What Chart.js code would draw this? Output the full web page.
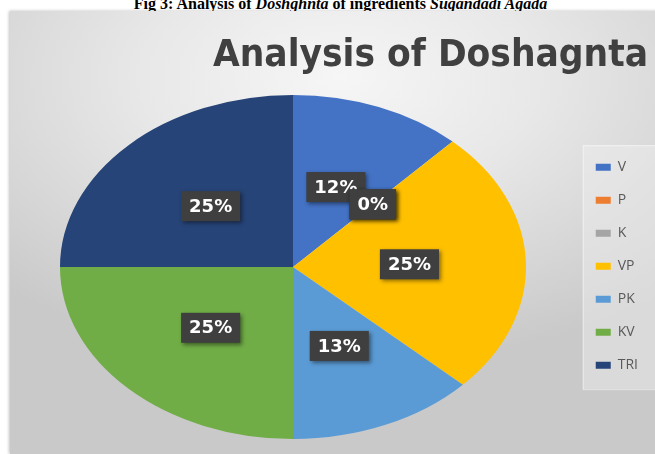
<!DOCTYPE html>
<html lang="en">
<head>
    <meta charset="UTF-8">
    <title>Analysis of Doshagnta</title>
    <script src="https://cdn.jsdelivr.net/npm/chart.js"></script>
    <style>
        body {
            margin: 0;
            width: 655px;
            height: 454px;
            overflow: hidden;
            background: #fff;
            position: relative;
        }
        .caption {
            position: absolute;
            top: -4px;
            left: 26px;
            width: 629px;
            text-align: center;
            font: bold 16px "Liberation Serif", serif;
            line-height: 16px;
            color: #000;
            white-space: nowrap;
        }
        .panel {
            position: absolute;
            left: 10px;
            top: 11px;
            width: 660px;
            height: 443px;
            background: radial-gradient(ellipse 75% 65% at 50% 15%, #f6f6f6 0%, #e8e8e8 40%, #c9c9c9 100%);
            box-shadow: -1px 0 3px rgba(0, 0, 0, 0.25);
        }
        canvas {
            position: absolute;
            left: 0;
            top: 0;
        }
    </style>
</head>
<body>

    <div class="caption">Fig 3: Analysis of <i>Doshghnta</i> of ingredients <i>Sugandadi Agada</i></div>
    <div class="panel"></div>
    <canvas id="doshaChart" width="655" height="454"></canvas>

    <script>
        // Dados do gráfico
        const labels = ['V', 'P', 'K', 'VP', 'PK', 'KV', 'TRI'];
        const values = [12, 0, 0, 25, 13, 25, 25];
        const colors = ['#4472C4', '#ED7D31', '#A5A5A5', '#FFC000', '#5B9BD5', '#70AD47', '#264478'];

        // onde fica a elipse da pizza (a imagem original foi esticada)
        const PIE = { cx: 293, cy: 267, rx: 233, ry: 172 };

        function pieScale(arc) {
            return { sx: PIE.rx / arc.outerRadius, sy: PIE.ry / arc.outerRadius };
        }

        // fundo claro atrás da legenda
        const legendBox = {
            id: 'legendBox',
            beforeDraw(chart) {
                const hb = chart.legend.legendHitBoxes;
                if (!hb || !hb.length) return;
                const last = hb[hb.length - 1];
                const ctx = chart.ctx;
                const x = hb[0].left - 13, y = hb[0].top - 15;
                const w = 75, h = last.top + last.height + 17 - y;
                ctx.save();
                ctx.fillStyle = 'rgba(240, 240, 240, 0.45)';
                ctx.strokeStyle = 'rgba(255, 255, 255, 0.5)';
                ctx.fillRect(x, y, w, h);
                ctx.strokeRect(x + 0.5, y + 0.5, w, h);
                ctx.restore();
            }
        };

        // estica a pizza em elipse e desenha os rótulos
        const ellipsePie = {
            id: 'ellipsePie',
            beforeDatasetsDraw(chart) {
                const arc = chart.getDatasetMeta(0).data[0];
                const s = pieScale(arc);
                const ctx = chart.ctx;
                ctx.save();
                ctx.translate(PIE.cx, PIE.cy);
                ctx.scale(s.sx, s.sy);
                ctx.translate(-arc.x, -arc.y);
            },
            afterDatasetsDraw(chart) {
                const ctx = chart.ctx;
                ctx.restore();
                const meta = chart.getDatasetMeta(0);
                const s = pieScale(meta.data[0]);
                ctx.save();
                ctx.font = 'bold 18px "DejaVu Sans"';
                ctx.textAlign = 'center';
                ctx.textBaseline = 'middle';
                meta.data.forEach((arc, i) => {
                    const p = arc.tooltipPosition();
                    const x = PIE.cx + (p.x - arc.x) * s.sx;
                    const y = PIE.cy + (p.y - arc.y) * s.sy;
                    const text = values[i] + '%';
                    const w = ctx.measureText(text).width + 16;
                    const h = 30;
                    ctx.shadowColor = 'rgba(0, 0, 0, 0.45)';
                    ctx.shadowBlur = 4;
                    ctx.shadowOffsetX = 2;
                    ctx.shadowOffsetY = 2;
                    ctx.fillStyle = '#3f3f3f';
                    ctx.fillRect(x - w / 2, y - h / 2, w, h);
                    ctx.shadowColor = 'transparent';
                    ctx.fillStyle = '#ffffff';
                    ctx.fillText(text, x, y + 1);
                });
                ctx.restore();
            }
        };

        const config = {
            type: 'pie',
            data: {
                labels: labels,
                datasets: [{
                    data: values,
                    backgroundColor: colors,
                    borderWidth: 0,
                    clip: false
                }]
            },
            options: {
                responsive: false,
                animation: false,
                devicePixelRatio: 1,
                layout: {
                    padding: { left: 213, right: 7, top: 0, bottom: 15 }
                },
                plugins: {
                    title: {
                        display: true,
                        text: 'Analysis of Doshagnta',
                        align: 'start',
                        color: '#404040',
                        font: { family: 'DejaVu Sans', size: 37, weight: 'bold' },
                        padding: { top: 34, bottom: 15 }
                    },
                    legend: {
                        position: 'right',
                        fullSize: false,
                        labels: {
                            boxWidth: 15,
                            boxHeight: 7,
                            padding: 19,
                            color: '#595959',
                            font: { family: 'Open Sans', size: 14 }
                        }
                    },
                    tooltip: { enabled: false }
                }
            },
            plugins: [legendBox, ellipsePie]
        };

        const doshaChart = new Chart(document.getElementById('doshaChart'), config);
    </script>

</body>
</html>
